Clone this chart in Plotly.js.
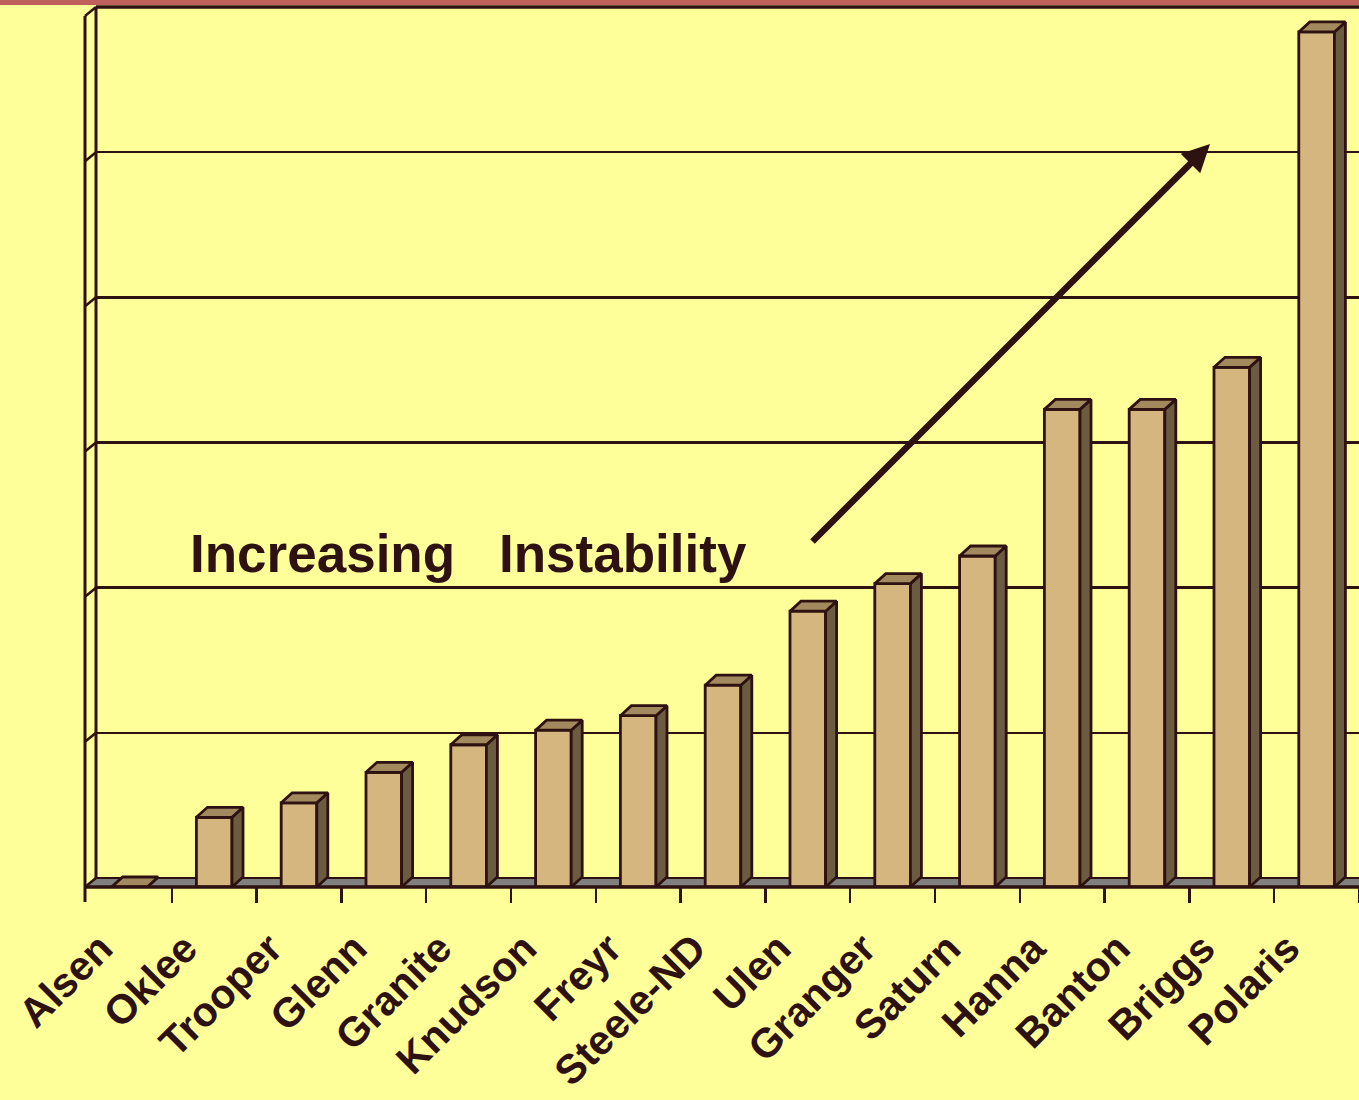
<!DOCTYPE html>
<html><head><meta charset="utf-8">
<script src="https://cdn.plot.ly/plotly-3.0.1.min.js"></script>
<style>html,body{margin:0;padding:0;background:#FFFF99;}</style>
</head><body><div id="chart" style="width:1359px;height:1100px;"></div>
<script>
// ---- data ----
const categories = ['Alsen','Oklee','Trooper','Glenn','Granite','Knudson','Freyr','Steele-ND','Ulen','Granger','Saturn','Hanna','Banton','Briggs','Polaris'];
const values = [0, 0.48, 0.58, 0.79, 0.98, 1.08, 1.18, 1.39, 1.90, 2.09, 2.28, 3.29, 3.29, 3.58, 5.89];
const gridValues = [0, 1, 2, 3, 4, 5, 6];
const noteWords = ['Increasing', 'Instability'];

// ---- geometry / styles ----
const W = 1359, H = 1100;
const frontLeft = 87, backLeft = 96, wallTop = 7, frontBase = 887;
const wallDX = 11, wallDY = 9;       // depth offset of walls (px)
const barDX = 11, barDY = 10;        // depth offset of bars (px)
const barWidth = 0.42;
const ink = '#2E1111';
const cFront = '#D5B67F', cTop = '#A38A5E', cSide = '#6B5B41', cFloor = '#808080';
const bg = '#FFFF99';

const n = categories.length;
const plotL = backLeft, plotR = 0, plotT = wallTop, plotB = H - frontBase;
const plotW = W - plotL - plotR, plotH = H - plotT - plotB;
const slot = (W - frontLeft) / n;
const xMin = -0.5 + (backLeft - frontLeft) / slot;
const xMax = -0.5 + n;
const yTop = gridValues[gridValues.length - 1];
const unit = (frontBase - wallDY - wallTop) / yTop;
const yMin = -wallDY / unit;
const backBase = frontBase - wallDY;

const px2xp = px => (px - plotL) / plotW;
const py2yp = py => (frontBase - py) / plotH;
const px2x = px => (px - frontLeft) / slot - 0.5;
const py2y = py => (backBase - py) / unit;

const ddx = barDX / slot, ddy = barDY / unit;
const idx = categories.map((c, i) => i);

// ---- bar faces ----
const topX = [], topY = [], sideX = [], sideY = [];
idx.forEach(i => {
  const t = yMin + values[i];
  const l = i - barWidth / 2, r = i + barWidth / 2;
  topX.push(l, l + ddx, r + ddx, r, l, null);
  topY.push(t, t + ddy, t + ddy, t, t, null);
  sideX.push(r, r + ddx, r + ddx, r, r, null);
  sideY.push(t, t + ddy, yMin + ddy, yMin, t, null);
});

const traces = [
  {type: 'scatter', mode: 'lines', x: sideX, y: sideY, fill: 'toself', fillcolor: cSide,
   line: {color: ink, width: 2.8}, hoverinfo: 'skip', showlegend: false},
  {type: 'scatter', mode: 'lines', x: topX, y: topY, fill: 'toself', fillcolor: cTop,
   line: {color: ink, width: 2.8}, hoverinfo: 'skip', showlegend: false},
  {type: 'bar', x: idx, y: values, base: yMin, width: barWidth,
   marker: {color: cFront, line: {color: ink, width: 2.8}}, showlegend: false}
];

// ---- walls, floor, frame ----
const shapes = [];
const pline = (x0, y0, x1, y1, w, layer) => shapes.push({type: 'line', xref: 'paper', yref: 'paper',
  x0: px2xp(x0), y0: py2yp(y0), x1: px2xp(x1), y1: py2yp(y1), line: {color: ink, width: w}, layer: layer || 'above'});
// red band at top
shapes.push({type: 'rect', xref: 'paper', yref: 'paper', x0: px2xp(0), x1: px2xp(W), y0: py2yp(0), y1: py2yp(5),
  fillcolor: '#C0605C', line: {width: 0}, layer: 'above'});
// floor
const fl = backLeft - wallDX;
shapes.push({type: 'path', xref: 'paper', yref: 'paper', layer: 'below', fillcolor: cFloor, line: {width: 0},
  path: `M${px2xp(fl)},${py2yp(frontBase)} L${px2xp(backLeft)},${py2yp(backBase)} L${px2xp(W)},${py2yp(backBase)} L${px2xp(W)},${py2yp(frontBase)} Z`});
// left wall
pline(fl, wallTop + wallDY, fl, frontBase + 15, 3);
pline(backLeft, wallTop, backLeft, backBase, 3);
gridValues.forEach(g => {
  const yb = backBase - g * unit;
  pline(fl, yb + wallDY, backLeft, yb, 2.5);
});
// top edge
pline(backLeft, wallTop, W, wallTop, 3.5);
// front floor edge
pline(fl, frontBase, W, frontBase, 3.5);

// ---- annotations ----
const noteFont = {family: 'Liberation Sans, Arial, sans-serif', size: 53, color: ink, weight: 'bold'};
const annotations = [
  {xref: 'x', yref: 'y', axref: 'x', ayref: 'y', x: px2x(1210), y: py2y(144), ax: px2x(811), ay: py2y(543),
   text: '', showarrow: true, arrowhead: 2, arrowsize: 0.85, arrowwidth: 6.5, arrowcolor: ink, standoff: 0},
  {xref: 'paper', yref: 'paper', x: px2xp(188), y: py2yp(553), xanchor: 'left', yanchor: 'middle', showarrow: false,
   text: noteWords[0], font: noteFont},
  {xref: 'paper', yref: 'paper', x: px2xp(497), y: py2yp(553), xanchor: 'left', yanchor: 'middle', showarrow: false,
   text: noteWords[1], font: noteFont}
];

const layout = {
  width: W, height: H,
  margin: {l: plotL, r: plotR, t: plotT, b: plotB},
  paper_bgcolor: bg, plot_bgcolor: bg,
  showlegend: false,
  xaxis: {
    range: [xMin, xMax], tickmode: 'array', tickvals: idx, ticktext: categories,
    tickangle: -45, ticks: '', showgrid: false, zeroline: false, showline: false,
    tickfont: {family: 'Liberation Sans, Arial, sans-serif', size: 41, color: ink, weight: 'bold'},
    ticklabelstandoff: 28, ticklabelshift: -29,
    minor: {ticks: 'outside', ticklen: 15, tickwidth: 2.5, tickcolor: ink, tickmode: 'linear', tick0: -0.5, dtick: 1, showgrid: false}
  },
  yaxis: {
    range: [yMin, yTop], tickmode: 'array', tickvals: gridValues, showticklabels: false,
    showgrid: true, gridcolor: ink, gridwidth: 2.5, zeroline: false, showline: false, ticks: ''
  },
  shapes: shapes,
  annotations: annotations
};

Plotly.newPlot('chart', traces, layout, {displayModeBar: false, staticPlot: true});
</script>
</body></html>
